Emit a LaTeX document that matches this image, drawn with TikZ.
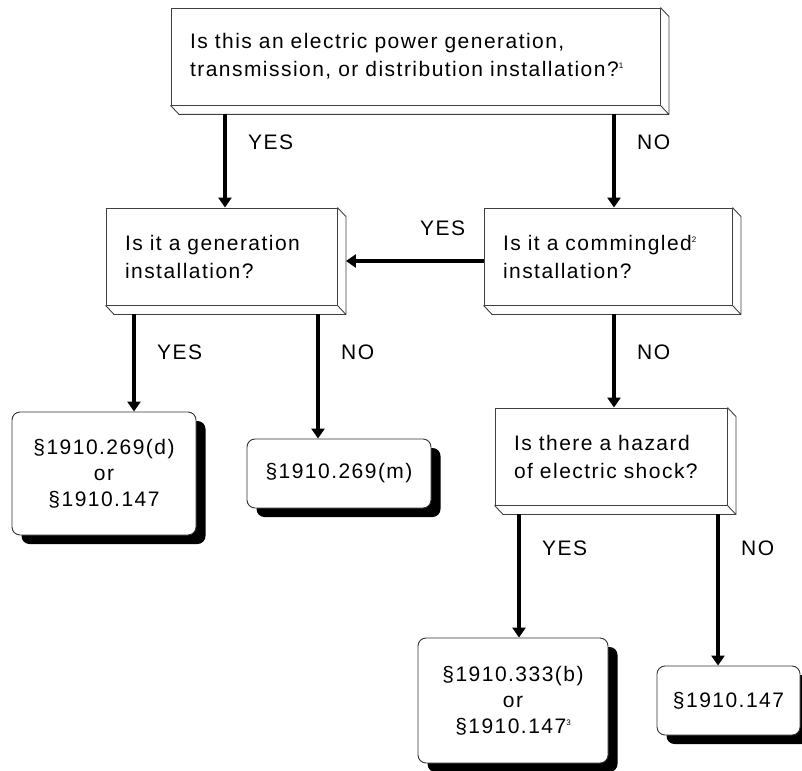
\documentclass[tikz,border=0pt]{standalone}
\usepackage{fontspec}
\newfontfamily\chartfont[LetterSpace=7]{Liberation Sans}
\usetikzlibrary{arrows.meta,positioning,shadows}
\newcommand{\fnmark}[1]{\raisebox{8pt}{\fontsize{8}{8}\selectfont #1}}

\begin{document}
\begin{tikzpicture}[x=1pt, y=-1pt, >={Triangle[width=13pt,length=10pt]},
	every node/.style={font=\chartfont\fontsize{21}{28}\selectfont},
	box/.style={draw=black!75, line width=0.9pt, align=left, inner xsep=19pt, inner ysep=0pt, minimum height=97pt},
	res/.style={draw=black!80, line width=0.9pt, fill=white, rounded corners=8pt, align=center, inner sep=0pt,
		font=\chartfont\fontsize{21}{26}\selectfont, drop shadow={shadow xshift=9.5pt, shadow yshift=-9pt, fill=black, opacity=1}},
	bev/.style={draw=black!75, line width=0.9pt},
	arr/.style={->, line width=4pt},
	lbl/.style={anchor=west, inner sep=0pt}]
	\useasboundingbox (0,0) rectangle (802,770);
	% questions
	\node[box, text width=451pt] (power) at (415.5,56.5) {Is this an electric power generation,\\transmission, or distribution installation?\fnmark{1}};
	\node[box, text width=193pt] (gen) at (221.5,256.5) {Is it a generation\\installation?};
	\node[box, text width=210pt] (comm) at (608,256.5) {Is it a commingled\fnmark{2}\\installation?};
	\node[box, text width=194pt] (shock) at (611,456.5) {Is there a hazard\\of electric shock?};
	\draw[bev] (power.north east) -- ++(8.5,9) |- ([shift={(8.5,9)}]power.south west) -- (power.south west) (power.south east) -- ++(8.5,9);
	\draw[bev] (gen.north east) -- ++(8.5,9) |- ([shift={(8.5,9)}]gen.south west) -- (gen.south west) (gen.south east) -- ++(8.5,9);
	\draw[bev] (comm.north east) -- ++(8.5,9) |- ([shift={(8.5,9)}]comm.south west) -- (comm.south west) (comm.south east) -- ++(8.5,9);
	\draw[bev] (shock.north east) -- ++(8.5,9) |- ([shift={(8.5,9)}]shock.south west) -- (shock.south west) (shock.south east) -- ++(8.5,9);
	% answers
	\node[res, minimum width=184pt, minimum height=123pt] (r_d) at (104,473.5) {§1910.269(d)\\or\\§1910.147};
	\node[res, minimum width=184pt, minimum height=69pt] (r_m) at (339,473.5) {§1910.269(m)};
	\node[res, minimum width=190pt, minimum height=125pt] (r_b) at (513,700.5) {§1910.333(b)\\or\\§1910.147\fnmark{3}};
	\node[res, minimum width=143pt, minimum height=69pt] (r_147) at (728.5,700.5) {§1910.147};
	% arrows
	\coordinate (p_yes) at ([shift={(-190.5,9)}]power.south);
	\coordinate (p_no) at ([shift={(198.5,9)}]power.south);
	\coordinate (g_yes) at ([shift={(-87.5,9)}]gen.south);
	\coordinate (g_no) at ([shift={(96.5,9)}]gen.south);
	\coordinate (c_no) at ([shift={(6,9)}]comm.south);
	\coordinate (s_yes) at ([shift={(-92,9)}]shock.south);
	\coordinate (s_no) at ([shift={(107,9)}]shock.south);
	\draw[arr] (p_yes) to (p_yes |- gen.north);
	\draw[arr] (p_no) to (p_no |- comm.north);
	\draw[arr] ([shift={(0,4.5)}]comm.west) to ([shift={(8.5,4.5)}]gen.east);
	\draw[arr] (g_yes) to (g_yes |- r_d.north);
	\draw[arr] (g_no) to (g_no |- r_m.north);
	\draw[arr] (c_no) to (c_no |- shock.north);
	\draw[arr] (s_yes) to (s_yes |- r_b.north);
	\draw[arr] (s_no) to (s_no |- r_147.north);
	% labels
	\node[lbl] (y_top) at (248,142) {YES};
	\node[lbl] (n_top) at (637,142) {NO};
	\node[lbl] (y_comm) at (420,228) {YES};
	\node[lbl] (y_gen) at (157,352) {YES};
	\node[lbl] (n_gen) at (341,352) {NO};
	\node[lbl] (n_comm) at (637,352) {NO};
	\node[lbl] (y_shock) at (542,548) {YES};
	\node[lbl] (n_shock) at (741,548) {NO};
\end{tikzpicture}
\end{document}
